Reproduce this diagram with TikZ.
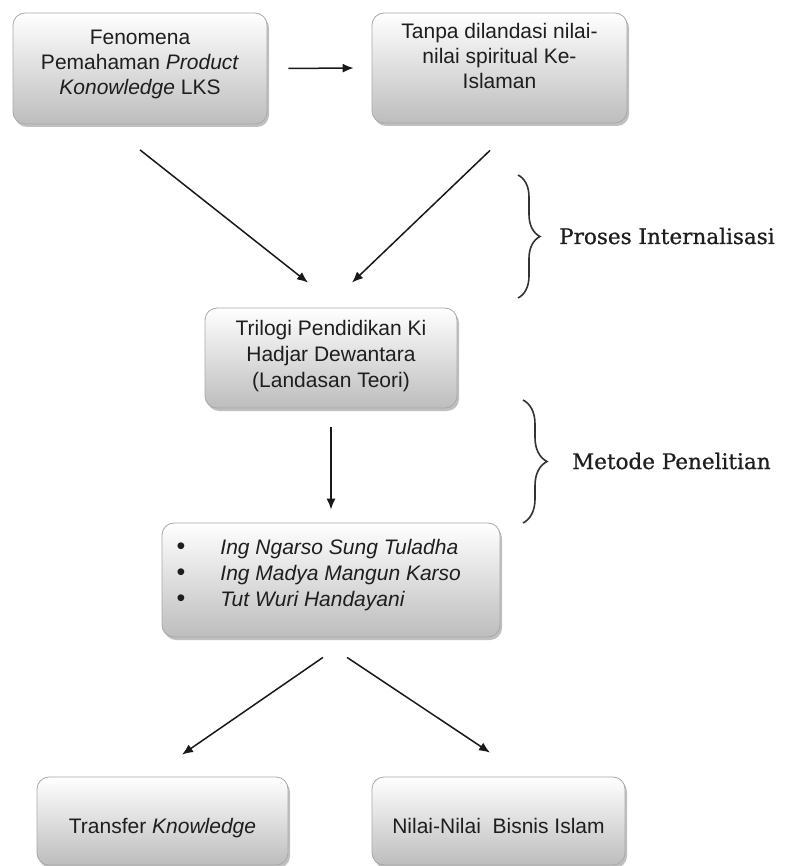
\documentclass[tikz,border=0pt]{standalone}
\usepackage{fontspec}
\setmainfont{Liberation Sans}
\newfontfamily\slabfont[FakeBold=0.8]{DejaVu Serif}
\usetikzlibrary{arrows.meta,shadows,decorations.pathreplacing}
\definecolor{boxedge}{HTML}{A8A8A8}
\definecolor{boxbottom}{HTML}{BDBDBD}
\definecolor{ink}{HTML}{1E1E1E}
\begin{document}
\begin{tikzpicture}[x=1pt,y=-1pt,
  boxnode/.style={rectangle, rounded corners=12pt, draw=boxedge, line width=0.8pt,
    top color=white, bottom color=boxbottom, inner sep=0pt,
    drop shadow={shadow xshift=2pt, shadow yshift=-3pt, opacity=0.35, fill=black!70}},
  boxtext/.style={align=center, text=ink, font=\fontsize{21}{25}\selectfont, inner sep=0pt},
  arr/.style={draw=black!90, line width=1.5pt, -{Latex[length=11pt,width=9pt]}},
  bracestyle/.style={draw=black!80, line width=1.6pt, decorate},
  sidelabel/.style={text=ink, font=\slabfont\fontsize{21.5}{25}\selectfont, inner sep=0pt}
]
\useasboundingbox (0,0) rectangle (785,866);
\fill[white] (0,0) rectangle (785,866);

% boxes
\node[boxnode, minimum width=254pt, minimum height=111pt] (b1) at (140,68.5) {};
\node[boxnode, minimum width=255pt, minimum height=110pt] (b2) at (499.5,68) {};
\node[boxnode, minimum width=252pt, minimum height=100pt] (b3) at (331,358) {};
\node[boxnode, minimum width=338pt, minimum height=114pt] (b4) at (331,580) {};
\node[boxnode, minimum width=251pt, minimum height=88pt] (b5) at (162.5,821) {};
\node[boxnode, minimum width=253pt, minimum height=88pt] (b6) at (498.5,821) {};

% texts
\node[boxtext] (t1) at ([yshift=4.5pt]b1.center) {Fenomena\\Pemahaman \textit{Product}\\\textit{Konowledge} LKS};
\node[boxtext] (t2) at ([yshift=12pt]b2.center) {Tanpa dilandasi nilai-\\nilai spiritual Ke-\\Islaman};
\node[boxtext, font=\fontsize{21}{26}\selectfont] (t3) at ([yshift=2pt]b3.center) {Trilogi Pendidikan Ki\\Hadjar Dewantara\\(Landasan Teori)};
\node[boxtext, anchor=west] (t4) at (176.5,575) {\fontsize{21}{26}\selectfont
  \begin{tabular}{@{}l@{\hspace{35pt}}l@{}}
  {\fontsize{25}{26}\selectfont\textbullet} & \textit{Ing Ngarso Sung Tuladha}\\
  {\fontsize{25}{26}\selectfont\textbullet} & \textit{Ing Madya Mangun Karso}\\
  {\fontsize{25}{26}\selectfont\textbullet} & \textit{Tut Wuri Handayani}
  \end{tabular}};
\node[boxtext, anchor=base] (t5) at (162.5,833) {Transfer \textit{Knowledge}};
\node[boxtext, anchor=base] (t6) at (498.5,833) {Nilai-Nilai\ \ Bisnis Islam};

% arrow end points
\coordinate (c1s) at ([yshift=-25.5pt]b1.south);
\coordinate (c1e) at ([xshift=-23pt,yshift=25pt]b3.north);
\coordinate (c2s) at ([xshift=-9.5pt,yshift=-27pt]b2.south);
\coordinate (c2e) at ([xshift=21pt,yshift=25pt]b3.north);
\coordinate (c3s) at ([xshift=-8pt,yshift=-20pt]b4.south);
\coordinate (c3e) at ([xshift=19.5pt,yshift=22pt]b5.north);
\coordinate (c4s) at ([xshift=16pt,yshift=-20pt]b4.south);
\coordinate (c4e) at ([xshift=-8.5pt,yshift=24pt]b6.north);

% arrows
\draw[arr, shorten <=21pt, shorten >=18pt] (b1.east) -- (b2.west);
\draw[arr] (c1s) -- (c1e);
\draw[arr] (c2s) -- (c2e);
\draw[arr, shorten <=19pt, shorten >=13pt] (b3.south) -- (b4.north);
\draw[arr] (c3s) -- (c3e);
\draw[arr] (c4s) -- (c4e);

% braces
\coordinate (br1t) at (518,175);
\coordinate (br1b) at (518,298);
\coordinate (br2t) at (523,400);
\coordinate (br2b) at (523,523);
\draw[bracestyle, decoration={brace, amplitude=22pt}] (br1t) -- (br1b);
\draw[bracestyle, decoration={brace, amplitude=24pt}] (br2t) -- (br2b);

\node[sidelabel, anchor=base west] (l1) at (559,244) {Proses Internalisasi};
\node[sidelabel, anchor=base west] (l2) at (572,469) {Metode Penelitian};
\end{tikzpicture}
\end{document}
